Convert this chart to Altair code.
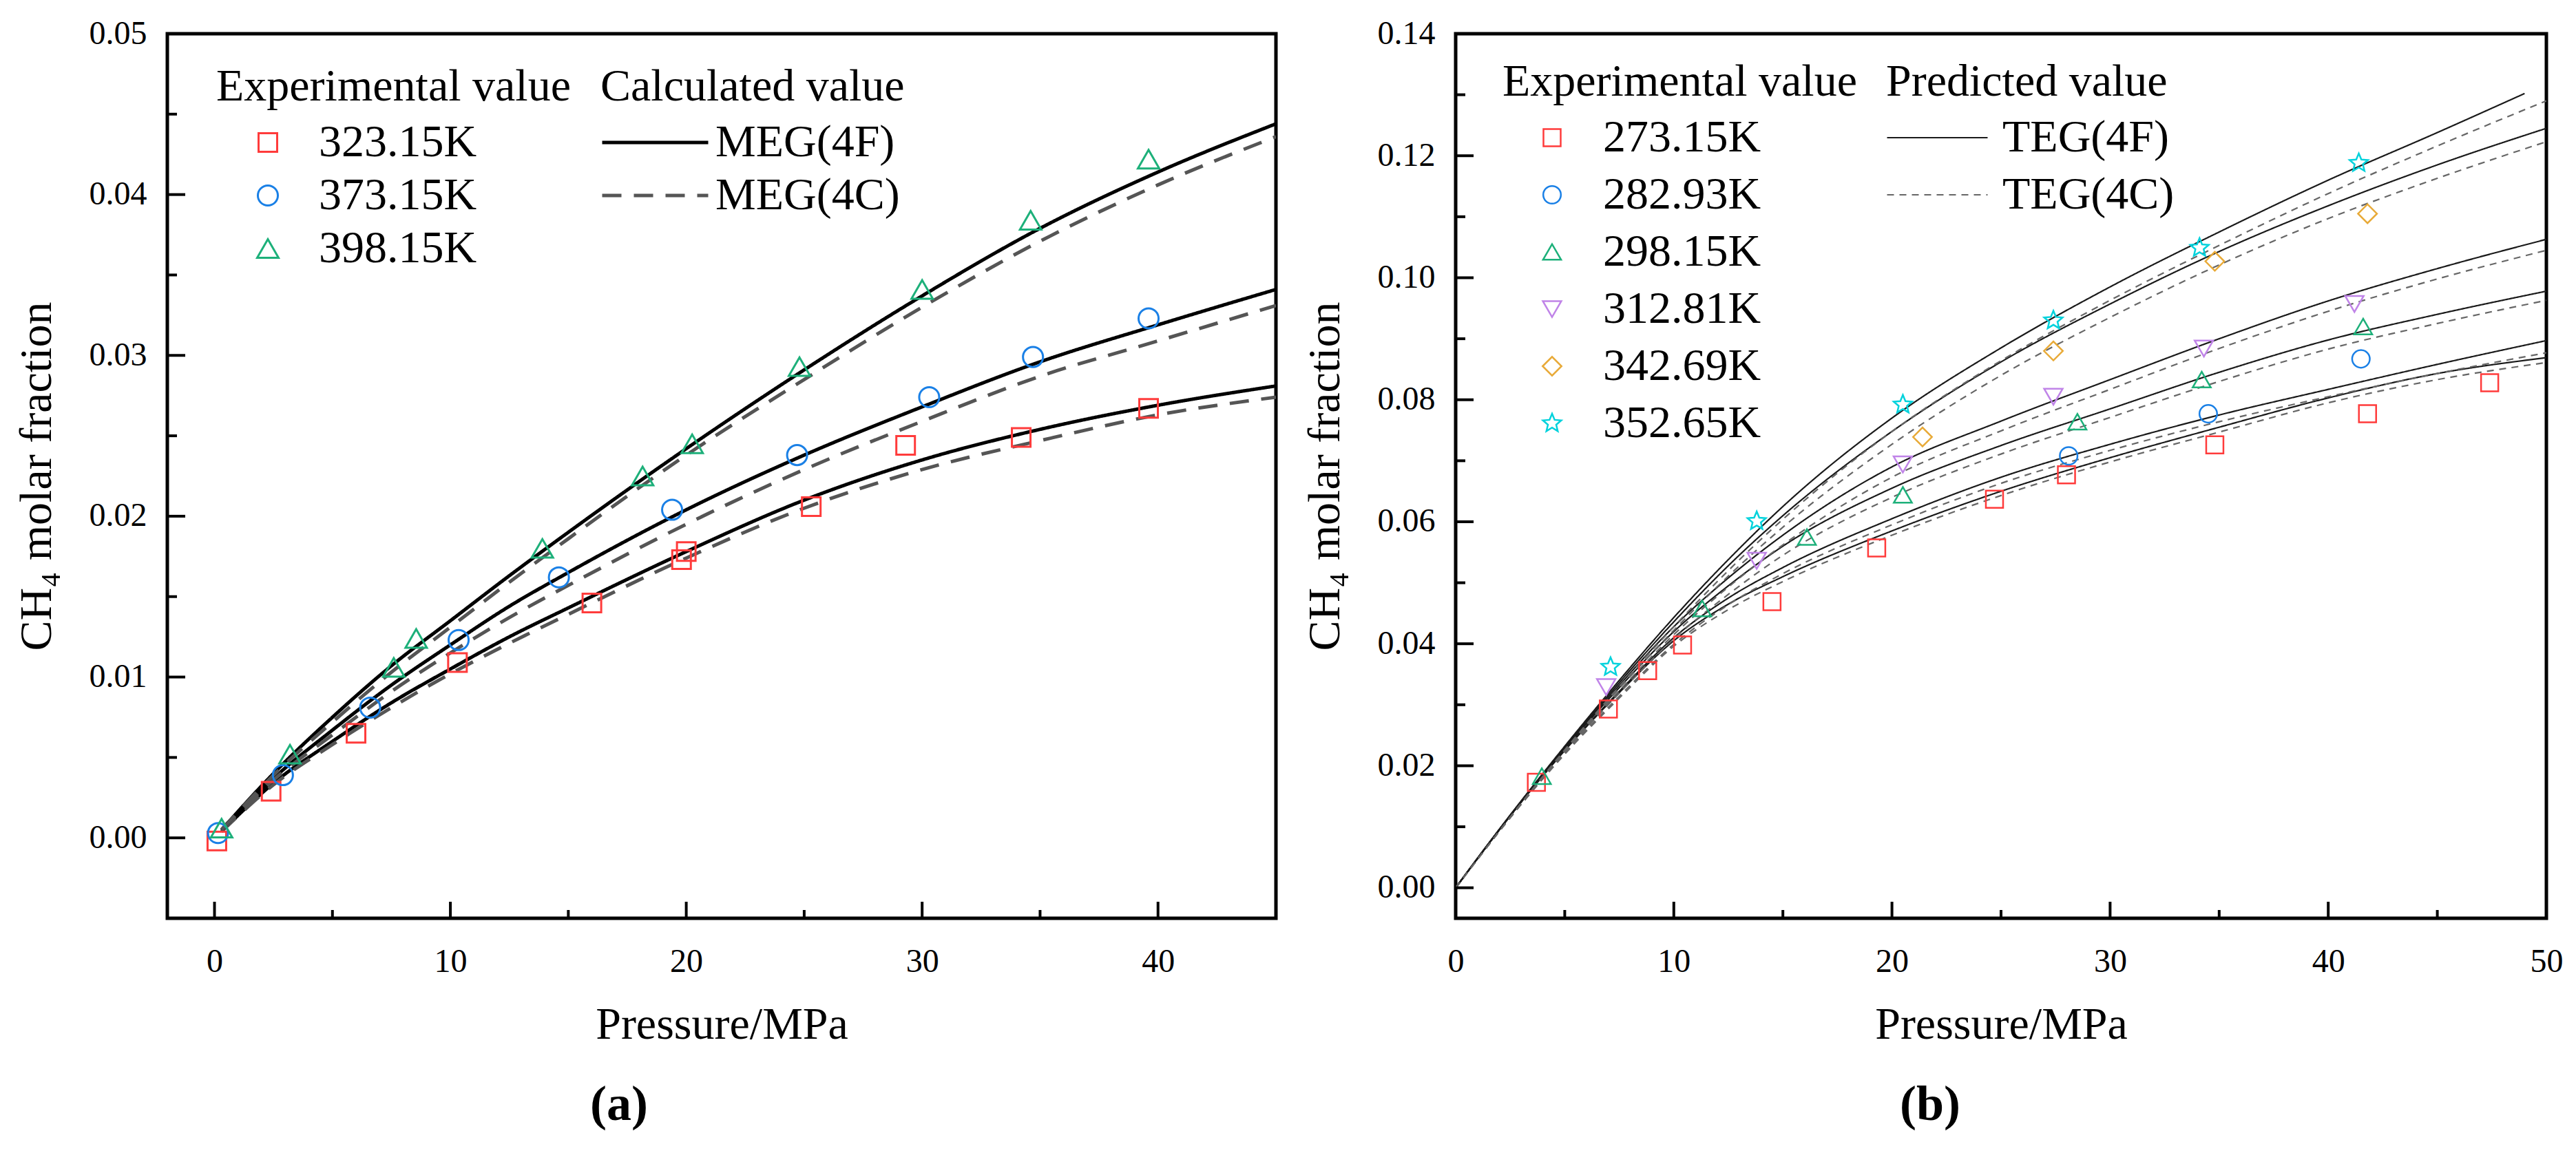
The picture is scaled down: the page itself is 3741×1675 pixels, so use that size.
import math
import altair as alt
import pandas as pd

FONT = "Liberation Serif"

# ---------------- (a) MEG : experimental points ----------------
a_temps = ["323.15K", "373.15K", "398.15K"]
a_p_323 = [0.1, 2.4, 6.0, 10.3, 16.0, 19.8, 20.0, 25.3, 29.3, 34.2, 39.6]
a_y_323 = [-0.0002, 0.0029, 0.0065, 0.0109, 0.0146, 0.0173, 0.0178, 0.0206, 0.0244, 0.0249, 0.0267]
a_p_373 = [0.15, 2.9, 6.6, 10.35, 14.6, 19.4, 24.7, 30.3, 34.7, 39.6]
a_y_373 = [0.0003, 0.0039, 0.0081, 0.0123, 0.0162, 0.0204, 0.0238, 0.0274, 0.0299, 0.0323]
a_p_398 = [0.3, 3.2, 7.6, 8.55, 13.9, 18.15, 20.25, 24.8, 30.0, 34.6, 39.6]
a_y_398 = [0.0006, 0.0052, 0.0106, 0.0124, 0.0180, 0.0225, 0.0245, 0.0293, 0.0341, 0.0384, 0.0422]

# (a) model curves
a_models = ["MEG(4F)", "MEG(4C)"]
a_curve_p = [0.3, 2.5, 5, 7.5, 10, 12.5, 15, 20, 25, 30, 35, 40, 45]
a_4f_323 = [0.0004, 0.0034, 0.0060, 0.0084, 0.0105, 0.0125, 0.0143, 0.0178, 0.0210, 0.0235, 0.0254, 0.0269, 0.0281]
a_4c_323 = [0.0004, 0.0033, 0.0058, 0.0081, 0.0102, 0.0121, 0.0139, 0.0174, 0.0205, 0.0229, 0.0247, 0.0263, 0.0274]
a_4f_373 = [0.0005, 0.0037, 0.0067, 0.0095, 0.0120, 0.0144, 0.0165, 0.0204, 0.0238, 0.0268, 0.0296, 0.0319, 0.0341]
a_4c_373 = [0.0005, 0.0036, 0.0064, 0.0091, 0.0115, 0.0137, 0.0157, 0.0195, 0.0229, 0.0259, 0.0287, 0.0309, 0.0331]
a_4f_398 = [0.0005, 0.0040, 0.0075, 0.0107, 0.0135, 0.0163, 0.0190, 0.0242, 0.0291, 0.0337, 0.0379, 0.0414, 0.0444]
a_4c_398 = [0.0005, 0.0039, 0.0072, 0.0103, 0.0131, 0.0159, 0.0186, 0.0238, 0.0285, 0.0330, 0.0371, 0.0406, 0.0436]

# ---------------- (b) TEG : experimental points ----------------
b_temps = ["273.15K", "282.93K", "298.15K", "312.81K", "342.69K", "352.65K"]
b_p_273 = [3.7, 7.0, 8.8, 10.4, 14.5, 19.3, 24.7, 28.0, 34.8, 41.8, 47.4]
b_y_273 = [0.0173, 0.0293, 0.0356, 0.0398, 0.0469, 0.0557, 0.0637, 0.0677, 0.0726, 0.0777, 0.0828]
b_p_283 = [28.1, 34.5, 41.5]
b_y_283 = [0.0708, 0.0777, 0.0867]
b_p_298 = [3.95, 11.3, 16.1, 20.5, 28.5, 34.2, 41.6]
b_y_298 = [0.0183, 0.0458, 0.0575, 0.0644, 0.0764, 0.0833, 0.0920]
b_p_313 = [6.9, 13.8, 20.5, 27.4, 34.3, 41.2]
b_y_313 = [0.0329, 0.0536, 0.0694, 0.0805, 0.0884, 0.0957]
b_p_343 = [21.4, 27.4, 34.8, 41.8]
b_y_343 = [0.0739, 0.0880, 0.1027, 0.1105]
b_p_353 = [7.1, 13.8, 20.5, 27.4, 34.1, 41.4]
b_y_353 = [0.0362, 0.0601, 0.0792, 0.0930, 0.1049, 0.1188]

# (b) model curves
b_models = ["TEG(4F)", "TEG(4C)"]
b_curve_p = [0, 2.5, 5, 7.5, 10, 12.5, 15, 20, 25, 30, 35, 40, 45, 50]
b_curve_p_top = [0, 2.5, 5, 7.5, 10, 12.5, 15, 20, 25, 30, 35, 40, 45, 49]
b_4f_273 = [0, 0.0118, 0.0225, 0.0320, 0.0405, 0.0465, 0.0510, 0.0585, 0.0650, 0.0705, 0.0755, 0.0803, 0.0843, 0.0869]
b_4c_273 = [0, 0.0115, 0.0219, 0.0311, 0.0396, 0.0456, 0.0502, 0.0578, 0.0643, 0.0698, 0.0747, 0.0795, 0.0833, 0.0861]
b_4f_283 = [0, 0.0118, 0.0226, 0.0322, 0.0410, 0.0475, 0.0525, 0.0605, 0.0673, 0.0727, 0.0775, 0.0817, 0.0858, 0.0897]
b_4c_283 = [0, 0.0115, 0.0220, 0.0314, 0.0399, 0.0464, 0.0515, 0.0595, 0.0663, 0.0717, 0.0764, 0.0805, 0.0843, 0.0877]
b_4f_298 = [0, 0.0118, 0.0228, 0.0328, 0.0420, 0.0495, 0.0560, 0.0655, 0.0725, 0.0785, 0.0845, 0.0898, 0.0940, 0.0978]
b_4c_298 = [0, 0.0115, 0.0222, 0.0319, 0.0408, 0.0481, 0.0545, 0.0640, 0.0711, 0.0771, 0.0830, 0.0883, 0.0925, 0.0963]
b_4f_313 = [0, 0.0118, 0.0229, 0.0332, 0.0428, 0.0508, 0.0578, 0.0690, 0.0765, 0.0833, 0.0900, 0.0962, 0.1015, 0.1063]
b_4c_313 = [0, 0.0115, 0.0223, 0.0323, 0.0415, 0.0493, 0.0562, 0.0673, 0.0749, 0.0817, 0.0884, 0.0945, 0.0998, 0.1045]
b_4f_343 = [0, 0.0119, 0.0230, 0.0336, 0.0436, 0.0528, 0.0610, 0.0748, 0.0862, 0.0957, 0.1043, 0.1118, 0.1185, 0.1245]
b_4c_343 = [0, 0.0116, 0.0224, 0.0327, 0.0422, 0.0511, 0.0591, 0.0727, 0.0840, 0.0935, 0.1021, 0.1097, 0.1163, 0.1223]
b_4f_353 = [0, 0.0119, 0.0232, 0.0340, 0.0443, 0.0538, 0.0625, 0.0770, 0.0885, 0.0985, 0.1075, 0.1160, 0.1238, 0.1302]
b_4c_353 = [0, 0.0116, 0.0226, 0.0330, 0.0428, 0.0520, 0.0604, 0.0748, 0.0864, 0.0963, 0.1053, 0.1138, 0.1216, 0.1290]


def star_path(inner=0.45):
    pts = []
    for i in range(10):
        ang = math.radians(-90 + 36 * i)
        r = 1.0 if i % 2 == 0 else inner
        pts.append(f"{r * math.cos(ang):.3f},{r * math.sin(ang):.3f}")
    return "M" + "L".join(pts) + "Z"


def points_frame(rows):
    recs = []
    for temp, ps, ys in rows:
        for p, y in zip(ps, ys):
            recs.append({"p": p, "y": y, "temp": temp})
    return pd.DataFrame(recs)


def curves_frame(rows):
    recs = []
    for model, temp, ps, ys in rows:
        for p, y in zip(ps, ys):
            recs.append({"p": p, "y": y, "temp": temp, "model": model})
    return pd.DataFrame(recs)


def panel(cfg):
    xs = alt.Scale(domain=cfg["xdom"], nice=False, zero=False)
    ys = alt.Scale(domain=cfg["ydom"], nice=False, zero=False)
    H = 1285

    x_lab = alt.Axis(orient="bottom", values=cfg["xmaj"], format="d", ticks=False, tickSize=0,
                     domain=False, grid=False, labelPadding=39, labelFontSize=48,
                     labelFlush=False, labelOverlap=False, labelColor="black",
                     title="Pressure/MPa", titleFontSize=66, titleFontWeight="normal",
                     titleColor="black", titlePadding=35)
    y_lab = alt.Axis(orient="left", values=cfg["ymaj"], format=".2f", ticks=False, tickSize=0,
                     domain=False, grid=False, labelPadding=30, labelFontSize=48,
                     labelFlush=False, labelOverlap=False, labelColor="black",
                     title="CH\u2084 molar fraction", titleFontSize=66,
                     titleFontWeight="normal", titleColor="black", titlePadding=cfg["ytp"])

    dashed = cfg["models"][1]
    dash_expr = f"datum.value == '{dashed}' ? {cfg['dashes'][1]} : [1, 0]"
    line_leg = alt.Legend(title=cfg["line_title"], orient="none", legendX=cfg["llx"], legendY=cfg["ly"],
                          symbolType="stroke", symbolSize=cfg["lw"] ** 2, clipHeight=66,
                          symbolStrokeWidth=cfg["sw"], symbolDash={"expr": dash_expr},
                          labelOffset=cfg["llo"], rowPadding=cfg["rp"],
                          titlePadding=14, padding=0, titleFontSize=66, titleFont=FONT,
                          titleFontWeight="normal", titleColor="black", labelFont=FONT,
                          labelFontSize=66, labelColor="black", titleLimit=1000, labelLimit=1000)
    pt_leg = alt.Legend(title="Experimental value", orient="none", legendX=cfg["plx"], legendY=cfg["ly"],
                        symbolOffset=cfg["pso"], labelOffset=cfg["plo"], rowPadding=cfg["rp"],
                        symbolSize=cfg["lsz"], clipHeight=66,
                        titlePadding=14, padding=0, symbolStrokeWidth=cfg["psw"],
                        titleFontSize=66, titleFont=FONT, titleFontWeight="normal",
                        titleColor="black", labelFont=FONT, labelFontSize=66,
                        labelColor="black", titleLimit=1000, labelLimit=1000)

    lines = alt.Chart(cfg["curves"]).mark_line(interpolate="monotone", clip=True,
                                               strokeWidth=cfg["sw"]).encode(
        x=alt.X("p:Q", scale=xs, axis=x_lab),
        y=alt.Y("y:Q", scale=ys, axis=y_lab),
        detail="temp:N",
        stroke=alt.Stroke("model:N", scale=alt.Scale(domain=cfg["models"], range=cfg["line_colors"]),
                          legend=line_leg),
        strokeDash=alt.StrokeDash("model:N", scale=alt.Scale(domain=cfg["models"], range=cfg["dashes"]),
                                  legend=line_leg),
    )
    points = alt.Chart(cfg["points"]).mark_point(filled=False, opacity=1,
                                                 strokeWidth=cfg["psw"]).encode(
        x=alt.X("p:Q", scale=xs),
        y=alt.Y("y:Q", scale=ys),
        color=alt.Color("temp:N", scale=alt.Scale(domain=cfg["temps"], range=cfg["colors"]), legend=pt_leg),
        shape=alt.Shape("temp:N", scale=alt.Scale(domain=cfg["temps"], range=cfg["shapes"]), legend=pt_leg),
        size=alt.Size("temp:N", scale=alt.Scale(domain=cfg["temps"], range=cfg["sizes"]), legend=None),
    )

    # inward tick marks along the bottom and left frame edges
    def xticks(values, length):
        return alt.Chart(pd.DataFrame({"p": values})).mark_rule(color="black", strokeWidth=4).encode(
            x=alt.X("p:Q", scale=xs), y=alt.value(H), y2=alt.value(H - length))

    def yticks(values, length):
        return alt.Chart(pd.DataFrame({"y": values})).mark_rule(color="black", strokeWidth=4).encode(
            y=alt.Y("y:Q", scale=ys), x=alt.value(0), x2=alt.value(length))

    ticks = [xticks(cfg["xmaj"], 24), xticks(cfg["xmin"], 12),
             yticks(cfg["ymaj"], 26), yticks(cfg["ymin"], 14)]

    return alt.layer(lines, points, *ticks).properties(
        width=cfg["w"], height=H,
        title=alt.TitleParams(text=cfg["tag"], orient="bottom", anchor="middle", frame="group",
                              font=FONT, fontSize=72, fontWeight="bold", color="black",
                              dx=cfg["tagdx"], offset=49),
    )


pts_a = points_frame([("323.15K", a_p_323, a_y_323), ("373.15K", a_p_373, a_y_373),
                      ("398.15K", a_p_398, a_y_398)])
cur_a = curves_frame([
    ("MEG(4F)", "323.15K", a_curve_p, a_4f_323), ("MEG(4C)", "323.15K", a_curve_p, a_4c_323),
    ("MEG(4F)", "373.15K", a_curve_p, a_4f_373), ("MEG(4C)", "373.15K", a_curve_p, a_4c_373),
    ("MEG(4F)", "398.15K", a_curve_p, a_4f_398), ("MEG(4C)", "398.15K", a_curve_p, a_4c_398),
])
pts_b = points_frame([("273.15K", b_p_273, b_y_273), ("282.93K", b_p_283, b_y_283),
                      ("298.15K", b_p_298, b_y_298), ("312.81K", b_p_313, b_y_313),
                      ("342.69K", b_p_343, b_y_343), ("352.65K", b_p_353, b_y_353)])
cur_b = curves_frame([
    ("TEG(4F)", "273.15K", b_curve_p, b_4f_273), ("TEG(4C)", "273.15K", b_curve_p, b_4c_273),
    ("TEG(4F)", "282.93K", b_curve_p, b_4f_283), ("TEG(4C)", "282.93K", b_curve_p, b_4c_283),
    ("TEG(4F)", "298.15K", b_curve_p, b_4f_298), ("TEG(4C)", "298.15K", b_curve_p, b_4c_298),
    ("TEG(4F)", "312.81K", b_curve_p, b_4f_313), ("TEG(4C)", "312.81K", b_curve_p, b_4c_313),
    ("TEG(4F)", "342.69K", b_curve_p, b_4f_343), ("TEG(4C)", "342.69K", b_curve_p, b_4c_343),
    ("TEG(4F)", "352.65K", b_curve_p_top, b_4f_353), ("TEG(4C)", "352.65K", b_curve_p, b_4c_353),
])

panel_a = panel(dict(
    points=pts_a, curves=cur_a, temps=a_temps, models=a_models,
    xdom=[-2, 45], ydom=[-0.005, 0.05],
    xmaj=[0, 10, 20, 30, 40], xmin=[5, 15, 25, 35],
    ymaj=[0.0, 0.01, 0.02, 0.03, 0.04, 0.05], ymin=[0.005, 0.015, 0.025, 0.035, 0.045],
    colors=["#ff3b3b", "#1a80e6", "#1db07a"],
    shapes=["square", "circle", "triangle-up"],
    sizes=[729, 961, 1296], lsz=900, psw=3,
    line_colors=["#000000", "#555555"], dashes=[[1, 0], [28, 18]], sw=5,
    line_title="Calculated value", lw=154, llx=629, llo=8, plx=71, pso=42, plo=41, ly=45, rp=11,
    w=1610, ytp=42, tag="(a)", tagdx=-149,
))
panel_b = panel(dict(
    points=pts_b, curves=cur_b, temps=b_temps, models=b_models,
    xdom=[0, 50], ydom=[-0.005, 0.14],
    xmaj=[0, 10, 20, 30, 40, 50], xmin=[5, 15, 25, 35, 45],
    ymaj=[0.0, 0.02, 0.04, 0.06, 0.08, 0.10, 0.12, 0.14],
    ymin=[0.01, 0.03, 0.05, 0.07, 0.09, 0.11, 0.13],
    colors=["#ff3b3b", "#1a80e6", "#1db07a", "#c084e8", "#e8aa38", "#00d2dc"],
    shapes=["square", "circle", "triangle-up", "triangle-down", "diamond", star_path()],
    sizes=[625, 784, 1225, 1225, 1444, 1130], lsz=800, psw=2.5,
    line_colors=["#1a1a1a", "#666666"], dashes=[[1, 0], [10, 8]], sw=2.2,
    line_title="Predicted value", lw=146, llx=625, llo=20, plx=68, pso=39, plo=41, ly=38, rp=17,
    w=1584, ytp=42, tag="(b)", tagdx=-103,
))

chart = alt.hconcat(panel_a, panel_b, spacing=32).resolve_scale(
    color="independent", shape="independent", size="independent",
    stroke="independent", strokeDash="independent"
).properties(
    padding={"left": 9, "top": 14, "right": 0, "bottom": 0},
    background="white",
).configure(font=FONT).configure_view(stroke="black", strokeWidth=5).configure_axis(
    labelFont=FONT, titleFont=FONT
)

chart.save("out.html", embed_options={"renderer": "svg", "actions": False})
